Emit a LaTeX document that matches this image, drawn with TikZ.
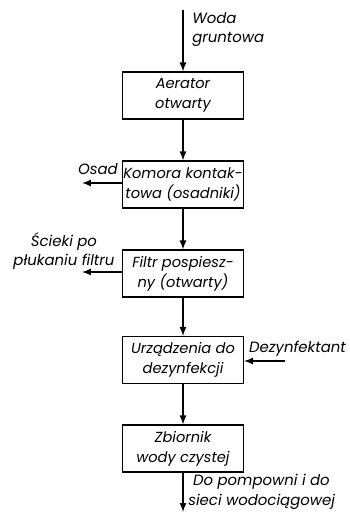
\documentclass[tikz,border=0pt]{standalone}
\usepackage{fontspec}
\setmainfont{Poppins}
\usetikzlibrary{arrows,positioning}

\begin{document}
\begin{tikzpicture}[transform shape,scale=1,
	blok/.style={draw,thick,minimum width=3.025cm,minimum height=1.175cm,inner sep=0pt,align=center,font=\itshape\fontsize{10.4}{14}\selectfont},
	opis/.style={inner sep=0pt,font=\itshape\fontsize{10.6}{14}\selectfont},
	strz/.style={-latex,line width=1.2pt}]
	\useasboundingbox (0,0) rectangle (8.75,-12.875);
	% bloki
	\node[blok] (aerator) at (4.575,-2.3875) {Aerator\\otwarty};
	\node[blok] (komora) at (4.575,-4.6125) {Komora kontak-\\towa (osadniki)};
	\node[blok] (filtr) at (4.575,-6.8375) {Filtr pospiesz-\\ny (otwarty)};
	\node[blok] (dezynf) at (4.575,-9.0) {Urządzenia do\\dezynfekcji};
	\node[blok] (zbiornik) at (4.575,-11.2125) {Zbiornik\\wody czystej};
	% wloty i wyloty
	\coordinate (woda) at (4.575,-0.25);
	\coordinate (siec) at (4.575,-12.8);
	\coordinate (osad) at (2.05,-4.575);
	\coordinate (scieki) at (2.05,-6.8);
	\coordinate (chlor) at (7.125,-9.025);
	\draw[strz] (woda) -- (aerator);
	\draw[strz] (aerator) -- (komora);
	\draw[strz] (komora) -- (filtr);
	\draw[strz] (filtr) -- (dezynf);
	\draw[strz] (dezynf) -- (zbiornik);
	\draw[strz] (zbiornik) -- (siec);
	\draw[strz] (komora.west |- osad) -- (osad);
	\draw[strz] (filtr.west |- scieki) -- (scieki);
	\draw[strz] (chlor) -- (dezynf.east |- chlor);
	% opisy
	\node[opis,align=left,anchor=north west] (t1) at (4.8,-0.3) {Woda\\gruntowa};
	\node[opis,anchor=base east] (t2) at (2.95,-4.35) {Osad};
	\node[opis,align=center] (t3) at (1.6,-6.275) {Ścieki po\\płukaniu filtru};
	\node[opis,anchor=base west] (t4) at (6.22,-8.8) {Dezynfektant};
	\node[opis,align=left,anchor=north west] (t5) at (4.7,-11.85) {\hspace*{1.2mm}Do pompowni i do\\sieci wodociągowej};
\end{tikzpicture}
\end{document}
